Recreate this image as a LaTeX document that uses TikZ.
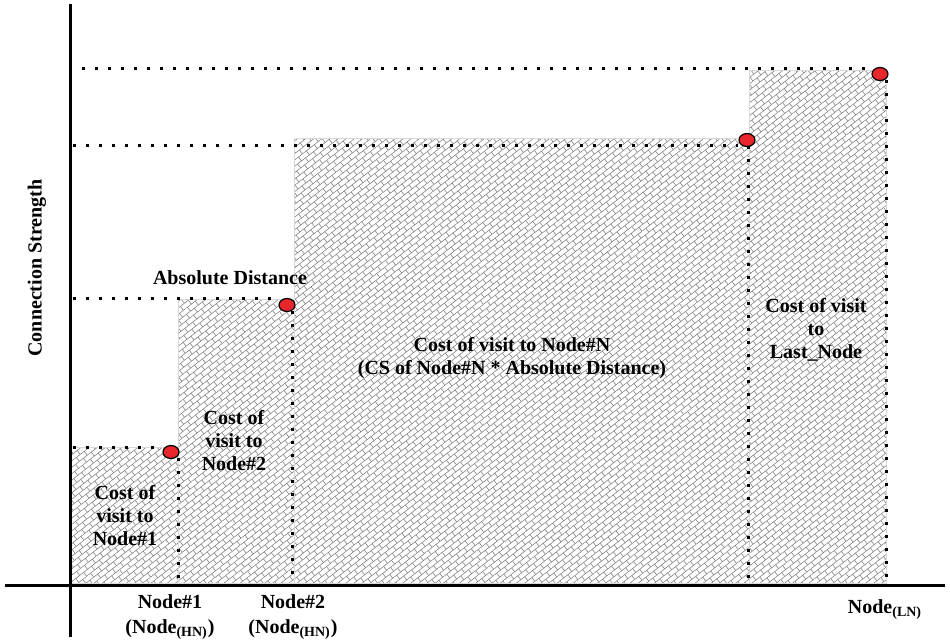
\documentclass[tikz,border=0pt]{standalone}
\usepackage{fontspec}
\setmainfont{Liberation Serif}
\usetikzlibrary{patterns.meta,shapes.geometric}
\definecolor{e8262b}{HTML}{E8262B}
\tikzdeclarepattern{
  name=diagbricks,
  type=uncolored,
  bottom left={(-.2pt,-.2pt)},
  top right={(5.2pt,5.2pt)},
  tile size={(5pt,5pt)},
  tile transformation={rotate=38},
  code={
    \draw[line width=.3pt](0,0)--(5pt,0)(0,2.5pt)--(5pt,2.5pt)(0,0)--(0,2.5pt)(2.5pt,2.5pt)--(2.5pt,5pt);
  }
}

\begin{document}
\begin{tikzpicture}[x=.5pt,y=-.5pt,
    every node/.style={font=\bfseries\fontsize{10}{11.5}\selectfont,align=center,inner sep=0},
    hatch/.style={pattern=diagbricks,pattern color=black!48,draw=black!15,line width=.5pt},
    reddot/.style={ellipse,draw=black,line width=.6pt,fill=e8262b,minimum width=8pt,minimum height=6.5pt},
    dotline/.style={line width=1.5pt,dash pattern=on 1.5pt off 5pt},
    axisline/.style={line width=1.5pt}]
    \useasboundingbox(0,0)rectangle(950,644);
    % hatched cost areas
    \fill[hatch](70,447)rectangle(178,583);
    \fill[hatch](178,299)rectangle(294,583);
    \fill[hatch](294,138)rectangle(749,583);
    \fill[hatch](749,70)rectangle(886,583);
    % axes
    \coordinate(O)at(70,585);
    \draw[axisline](70,4)--(70,637);
    \draw[axisline](5,585)--(945,585);
    % nodes on the curve
    \node[reddot](D1)at(171,452){};
    \node[reddot](D2)at(287,305){};
    \node[reddot](D3)at(747,140){};
    \node[reddot](D4)at(880,74){};
    % horizontal guides
    \coordinate(L1)at(73,447);
    \coordinate(L2)at(73,298);
    \coordinate(L3)at(73,145);
    \coordinate(L4)at(82,68);
    \draw[dotline](L1)--(L1-|D1.west);
    \draw[dotline](L2)--(L2-|D2.west);
    \draw[dotline](L3)--(L3-|D3.west);
    \draw[dotline](L4)--(L4-|D4.west);
    % vertical guides
    \coordinate(V1)at(178,458);
    \coordinate(V2)at(292,311);
    \coordinate(V3)at(748,146);
    \coordinate(V4)at(886,80);
    \draw[dotline](V1)--(V1|-O);
    \draw[dotline](V2)--(V2|-O);
    \draw[dotline](V3)--(V3|-O);
    \draw[dotline](V4)--(V4|-O);
    % labels
    \node(ylab)[rotate=90]at(37,268){Connection Strength};
    \node(absd)at(230,278){Absolute Distance};
    \node(c1)at(125,516){Cost of\\visit to\\Node\#1};
    \node(c2)at(234,441){Cost of\\visit to\\Node\#2};
    \node(cN)at(512,358){Cost of visit to Node\#N\\(CS of Node\#N * Absolute Distance)};
    \node(cL)at(816,330){Cost of visit\\to\\Last\_Node};
    \node(n1)[font=\bfseries\fontsize{10}{12.5}\selectfont]at(170,617){Node\#1\\(Node\textsubscript{(HN)})};
    \node(n2)[font=\bfseries\fontsize{10}{12.5}\selectfont]at(293,617){Node\#2\\(Node\textsubscript{(HN)})};
    \node(nL)at(885,610){Node\textsubscript{(LN)}};
\end{tikzpicture}
\end{document}
